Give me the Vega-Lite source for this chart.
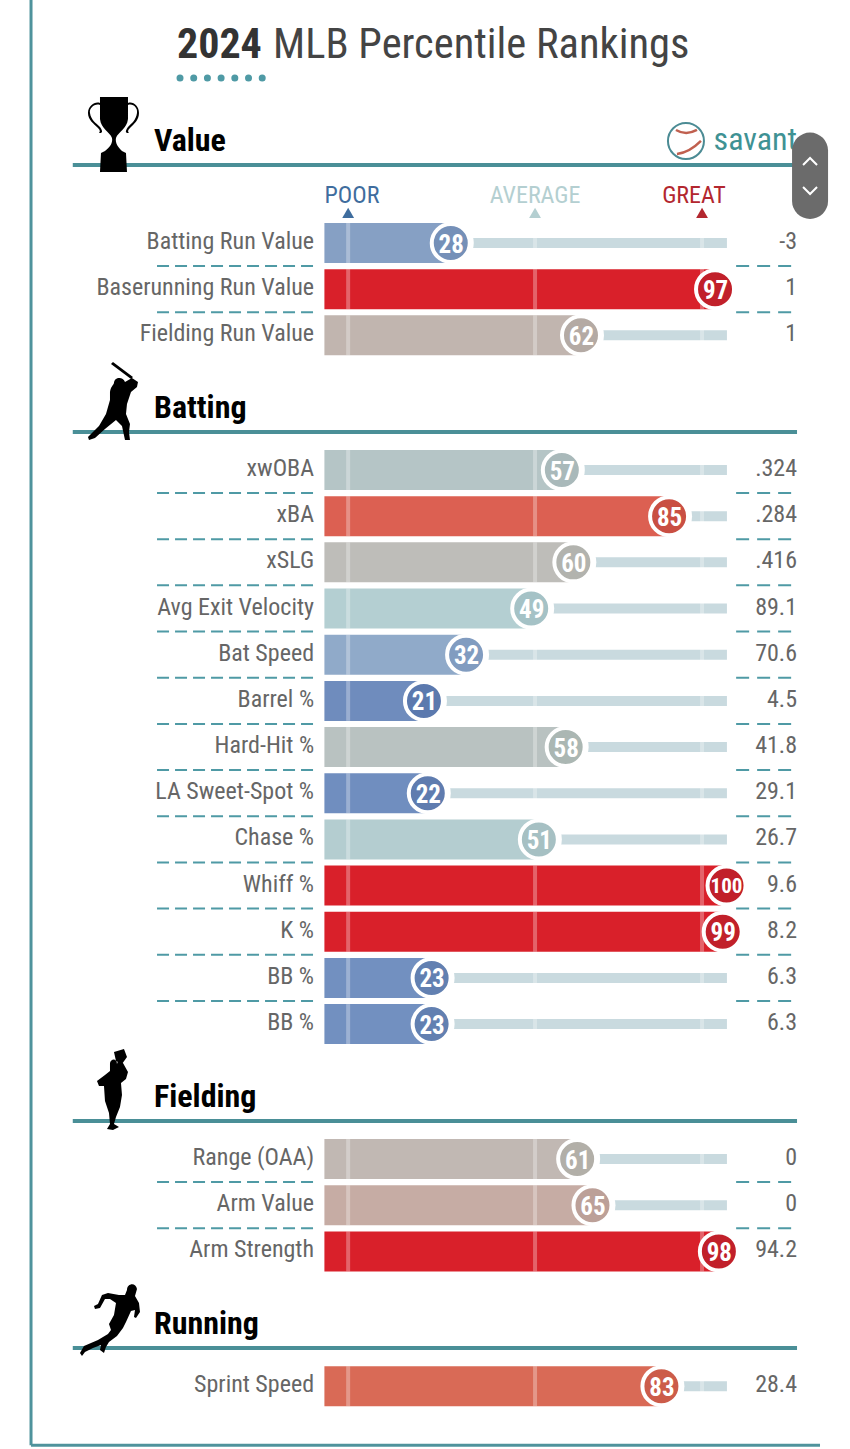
{
"$schema":"https://vega.github.io/schema/vega-lite/v6.json",
"width":850,"height":1449,"padding":0,
"autosize":{"type":"fit","contains":"padding"},
"background":"white",
"config":{"axis":{"disable":true},"view":{"stroke":null},"font":"Roboto Condensed"},
"datasets":{
"metrics":[
{"row":0,"name":"Batting Run Value","pct":28,"value":"-3","section":"Value","divider":true},
{"row":1,"name":"Baserunning Run Value","pct":97,"value":"1","section":"Value","divider":true},
{"row":2,"name":"Fielding Run Value","pct":62,"value":"1","section":"Value","divider":false},
{"row":4.917,"name":"xwOBA","pct":57,"value":".324","section":"Batting","divider":true},
{"row":5.917,"name":"xBA","pct":85,"value":".284","section":"Batting","divider":true},
{"row":6.917,"name":"xSLG","pct":60,"value":".416","section":"Batting","divider":true},
{"row":7.917,"name":"Avg Exit Velocity","pct":49,"value":"89.1","section":"Batting","divider":true},
{"row":8.917,"name":"Bat Speed","pct":32,"value":"70.6","section":"Batting","divider":true},
{"row":9.917,"name":"Barrel %","pct":21,"value":"4.5","section":"Batting","divider":true},
{"row":10.917,"name":"Hard-Hit %","pct":58,"value":"41.8","section":"Batting","divider":true},
{"row":11.917,"name":"LA Sweet-Spot %","pct":22,"value":"29.1","section":"Batting","divider":true},
{"row":12.917,"name":"Chase %","pct":51,"value":"26.7","section":"Batting","divider":true},
{"row":13.917,"name":"Whiff %","pct":100,"value":"9.6","section":"Batting","divider":true},
{"row":14.917,"name":"K %","pct":99,"value":"8.2","section":"Batting","divider":true},
{"row":15.917,"name":"BB %","pct":23,"value":"6.3","section":"Batting","divider":true},
{"row":16.917,"name":"BB %","pct":23,"value":"6.3","section":"Batting","divider":false},
{"row":19.84,"name":"Range (OAA)","pct":61,"value":"0","section":"Fielding","divider":true},
{"row":20.84,"name":"Arm Value","pct":65,"value":"0","section":"Fielding","divider":true},
{"row":21.84,"name":"Arm Strength","pct":98,"value":"94.2","section":"Fielding","divider":false},
{"row":24.76,"name":"Sprint Speed","pct":83,"value":"28.4","section":"Running","divider":false}
],
"sections":[
{"row":-1.689,"section":"Value"},
{"row":4.094,"section":"Batting"},
{"row":19.017,"section":"Fielding"},
{"row":23.933,"section":"Running"}
],
"scaleLabels":[
{"label":"POOR","textAt":2.6,"markAt":1.6},
{"label":"AVERAGE","textAt":50.4,"markAt":50.4},
{"label":"GREAT","textAt":91.9,"markAt":94}
]
},
"data":{"name":"metrics"},
"layer":[
{"data":{"values":[{"f":1}]},"mark":{"type":"rule","stroke":"#4f939c","strokeWidth":3,"clip":true},
 "encoding":{"x":{"datum":-81.2,"type":"quantitative","scale":{"domain":[-89.3,132.63],"nice":false,"zero":false}},
 "y":{"datum":-5.263,"type":"quantitative","scale":{"domain":[-5.263,26.12],"reverse":true,"nice":false,"zero":false}},
 "y2":{"datum":26.04}}},
{"data":{"values":[{"f":1}]},"mark":{"type":"rule","stroke":"#4f939c","strokeWidth":3},
 "encoding":{"x":{"datum":-81.2,"type":"quantitative"},"x2":{"datum":124.8},"y":{"datum":26.04,"type":"quantitative"}}},
{"data":{"values":[{"label":"2024"}]},"mark":{"type":"text","align":"left","baseline":"alphabetic","fontSize":42,"fontWeight":"bold","color":"#333333"},
 "encoding":{"x":{"datum":-43.1,"type":"quantitative"},"y":{"datum":-4.007,"type":"quantitative"},"text":{"field":"label","type":"nominal"}}},
{"data":{"values":[{"label":"MLB Percentile Rankings"}]},"mark":{"type":"text","align":"left","baseline":"alphabetic","fontSize":42.5,"color":"#444444"},
 "encoding":{"x":{"datum":-18,"type":"quantitative"},"y":{"datum":-4.007,"type":"quantitative"},"text":{"field":"label","type":"nominal"}}},
{"data":{"values":[{"f":1}]},"mark":{"type":"rule","stroke":"#4f9aa5","strokeWidth":7,"strokeCap":"round","strokeDash":[0,13.7]},
 "encoding":{"x":{"datum":-42.3,"type":"quantitative"},"x2":{"datum":-20.4},"y":{"datum":-3.574,"type":"quantitative"}}},
{"data":{"name":"sections"},"mark":{"type":"rule","stroke":"#4a8f97","strokeWidth":4},
 "encoding":{"x":{"datum":-70.3,"type":"quantitative"},"x2":{"datum":118.8},"y":{"field":"row","type":"quantitative"}}},
{"data":{"name":"sections"},"mark":{"type":"text","align":"left","baseline":"alphabetic","fontSize":32,"fontWeight":"bold","color":"#000000","yOffset":-14},
 "encoding":{"x":{"datum":-49.1,"type":"quantitative"},"y":{"field":"row","type":"quantitative"},"text":{"field":"section","type":"nominal"}}},
{"data":{"name":"sections"},"transform":[{"filter":"datum.section==='Value'"}],
 "mark":{"type":"point","filled":true,"size":4,"fill":"#000000","opacity":1,"shape":"M-13,-68 L15,-68 L15,-46 C14,-36 5,-33 3,-27 C2,-22 5,-18 9,-14 L13,-12 L14,7 L-13,7 L-12,-12 L-8,-14 C-3,-18 0,-22 -1,-27 C-3,-33 -12,-36 -13,-46 Z M-13,-60 C-18,-62 -24,-57 -23,-52 C-22,-45 -17,-42 -13,-38 C-11,-35 -10,-33 -12,-32 L-14,-32 C-12,-34 -14,-36 -15,-37 C-19,-41 -25,-45 -25,-52 C-25,-59 -18,-64 -13,-62 Z M15,-60 C20,-62 25,-57 24,-52 C23,-45 19,-42 15,-38 C13,-35 12,-33 14,-32 L16,-32 C14,-34 16,-36 17,-37 C21,-41 26,-45 26,-52 C26,-59 20,-64 15,-62 Z"},
 "encoding":{"x":{"datum":-59.8,"type":"quantitative"},"y":{"field":"row","type":"quantitative"}}},
{"data":{"name":"sections"},"transform":[{"filter":"datum.section==='Batting'"}],
 "mark":{"type":"point","filled":true,"size":4,"fill":"#000000","opacity":1,"shape":"M-2,-68 L0,-70 L20,-55 L18,-53 Z M1,-49 C1,-55 10,-56 12,-50 L19,-54 L25,-50 L24,-45 L18,-40 L14,-28 L13,-18 L17,-8 L16,0 L17,8 L12,8 L9,-6 L3,-12 L-8,-3 L-18,6 L-24,8 L-25,5 L-14,-6 L-7,-18 L-3,-32 L-3,-40 C-2,-46 0,-46 1,-49 Z"},
 "encoding":{"x":{"datum":-59.8,"type":"quantitative"},"y":{"field":"row","type":"quantitative"}}},
{"data":{"name":"sections"},"transform":[{"filter":"datum.section==='Fielding'"}],
 "mark":{"type":"point","filled":true,"size":4,"fill":"#000000","opacity":1,"shape":"M1,-69 L11,-72 L14,-64 L9,-57 L3,-60 Z M-3,-58 C-2,-63 4,-63 4,-57 L5,-60 L10,-58 L15,-49 L13,-42 L8,-38 L9,-26 L7,-14 L3,-4 L1,3 L6,6 L0,9 L-6,8 L-3,3 L-4,-8 L-8,-20 L-9,-35 L-14,-35 L-16,-40 L-8,-46 L-3,-50 Z"},
 "encoding":{"x":{"datum":-59.8,"type":"quantitative"},"y":{"field":"row","type":"quantitative"}}},
{"data":{"name":"sections"},"transform":[{"filter":"datum.section==='Running'"}],
 "mark":{"type":"point","filled":true,"size":4,"fill":"#000000","opacity":1,"shape":"M14,-58 C14,-65 23,-66 24,-59 L22,-52 L26,-45 L27,-36 L23,-30 L21,-31 L22,-38 L18,-37 L13,-26 L10,-20 L4,-12 L-4,-6 L-7,-1 L-9,5 L-13,2 L-12,-3 L-20,0 L-28,4 L-31,8 L-33,5 L-29,-2 L-15,-8 L-5,-14 L-2,-18 L-4,-24 L1,-33 L3,-45 L-3,-49 L-8,-49 L-13,-40 L-18,-39 L-19,-42 L-15,-44 L-11,-53 L-5,-55 L6,-53 L12,-53 Z"},
 "encoding":{"x":{"datum":-59.8,"type":"quantitative"},"y":{"field":"row","type":"quantitative"}}},
{"data":{"values":[{"label":"savant"}]},"mark":{"type":"text","align":"left","baseline":"alphabetic","fontSize":32,"color":"#3f9294"},
 "encoding":{"x":{"datum":97,"type":"quantitative"},"y":{"datum":-2.01,"type":"quantitative"},"text":{"field":"label","type":"nominal"}}},
{"data":{"values":[{"f":1}]},"mark":{"type":"point","shape":"circle","size":1296,"filled":false,"stroke":"#4b8b94","strokeWidth":2,"opacity":1},
 "encoding":{"x":{"datum":89.8,"type":"quantitative"},"y":{"datum":-2.21,"type":"quantitative"}}},
{"data":{"values":[{"f":1}]},"mark":{"type":"point","size":4,"filled":false,"stroke":"#c0604f","strokeWidth":2.5,"opacity":1,"shape":"M-10,-11 Q0,-5 11,-11 M-9,13 Q3,12 15,0"},
 "encoding":{"x":{"datum":89.8,"type":"quantitative"},"y":{"datum":-2.21,"type":"quantitative"}}},
{"data":{"name":"scaleLabels"},"mark":{"type":"text","align":"center","baseline":"alphabetic","fontSize":24},
 "encoding":{"x":{"field":"textAt","type":"quantitative"},"y":{"datum":-0.867,"type":"quantitative"},"text":{"field":"label","type":"nominal"},
 "color":{"field":"label","type":"nominal","legend":null,"scale":{"domain":["POOR","AVERAGE","GREAT"],"range":["#3f6d9e","#b4cfd1","#b3272f"]}}}},
{"data":{"name":"scaleLabels"},"mark":{"type":"point","shape":"triangle-up","filled":true,"size":140,"opacity":1},
 "encoding":{"x":{"field":"markAt","type":"quantitative"},"y":{"datum":-0.65,"type":"quantitative"},
 "color":{"field":"label","type":"nominal","legend":null}}},
{"mark":{"type":"rule","strokeWidth":10,"stroke":"#c9dadf"},
 "encoding":{"x":{"field":"pct","type":"quantitative"},"x2":{"datum":100.5},"y":{"field":"row","type":"quantitative"}}},
{"mark":{"type":"point","shape":"circle","filled":true,"fill":"white","size":2116,"opacity":1,"xOffset":1.5},
 "encoding":{"x":{"field":"pct","type":"quantitative"},"y":{"field":"row","type":"quantitative"}}},
{"mark":{"type":"rule","strokeWidth":40},
 "encoding":{"x":{"field":"pct","type":"quantitative"},"x2":{"datum":-4.6},"y":{"field":"row","type":"quantitative"},
 "stroke":{"field":"pct","type":"quantitative","legend":null,"scale":{"domain":[21,23,28,32,49,51,57,58,60,61,62,65,83,85,97,100],"range":["#6f8cbd","#7290c0","#86a0c4","#90aac9","#b4cfd2","#b4cdd0","#b5c5c6","#b9c2c1","#bebdb9","#c1b8b3","#c1b5af","#c6aca4","#d96a56","#dc6052","#d9202a","#d9202a"]}}}},
{"mark":{"type":"tick","orient":"vertical","size":40,"thickness":4,"color":"white","opacity":0.3},
 "encoding":{"x":{"datum":1.6,"type":"quantitative"},"y":{"field":"row","type":"quantitative"}}},
{"mark":{"type":"tick","orient":"vertical","size":40,"thickness":4,"color":"white","opacity":0.3},
 "encoding":{"x":{"datum":50.4,"type":"quantitative"},"y":{"field":"row","type":"quantitative"}}},
{"mark":{"type":"tick","orient":"vertical","size":40,"thickness":4,"color":"white","opacity":0.3},
 "encoding":{"x":{"datum":94,"type":"quantitative"},"y":{"field":"row","type":"quantitative"}}},
{"mark":{"type":"point","shape":"circle","filled":true,"size":1444,"stroke":"white","strokeWidth":4,"opacity":1,"xOffset":1.5},
 "encoding":{"x":{"field":"pct","type":"quantitative"},"y":{"field":"row","type":"quantitative"},
 "fill":{"field":"pct","type":"quantitative","legend":null,"scale":{"domain":[21,28,32,49,57,60,62,65,83,85,97,100],"range":["#5b79ae","#7590b8","#819cc0","#a5c2c6","#a9b9ba","#b2b3ae","#b4aaa4","#bca098","#cc5c4a","#c94f43","#c1202a","#c1202a"]}}}},
{"transform":[{"filter":"datum.pct<100"}],"mark":{"type":"text","color":"white","fontWeight":"bold","fontSize":25,"xOffset":2,"yOffset":1.5},
 "encoding":{"x":{"field":"pct","type":"quantitative"},"y":{"field":"row","type":"quantitative"},"text":{"field":"pct","type":"quantitative"}}},
{"transform":[{"filter":"datum.pct==100"}],"mark":{"type":"text","color":"white","fontWeight":"bold","fontSize":21,"xOffset":1.5,"yOffset":1},
 "encoding":{"x":{"field":"pct","type":"quantitative"},"y":{"field":"row","type":"quantitative"},"text":{"field":"pct","type":"quantitative"}}},
{"mark":{"type":"text","align":"right","fontSize":24,"color":"#666666","yOffset":-1},
 "encoding":{"x":{"datum":-7.3,"type":"quantitative"},"y":{"field":"row","type":"quantitative"},"text":{"field":"name","type":"nominal"}}},
{"mark":{"type":"text","align":"right","fontSize":24,"color":"#666666","yOffset":-1},
 "encoding":{"x":{"datum":118.8,"type":"quantitative"},"y":{"field":"row","type":"quantitative"},"text":{"field":"value","type":"nominal"}}},
{"transform":[{"filter":"datum.divider"}],"mark":{"type":"rule","stroke":"#4f9aa5","strokeWidth":2,"strokeDash":[12,6],"yOffset":23},
 "encoding":{"x":{"datum":-48.3,"type":"quantitative"},"x2":{"datum":-7.3},"y":{"field":"row","type":"quantitative"}}},
{"transform":[{"filter":"datum.divider"}],"mark":{"type":"rule","stroke":"#4f9aa5","strokeWidth":2,"strokeDash":[13,8],"yOffset":23},
 "encoding":{"x":{"datum":102.9,"type":"quantitative"},"x2":{"datum":118.8},"y":{"field":"row","type":"quantitative"}}},
{"data":{"values":[{"f":1}]},"mark":{"type":"rule","stroke":"#6b6b6b","strokeWidth":36,"strokeCap":"round"},
 "encoding":{"x":{"datum":122.2,"type":"quantitative"},"y":{"datum":-2.003,"type":"quantitative"},"y2":{"datum":-0.91}}},
{"data":{"values":[{"f":1}]},"mark":{"type":"point","size":4,"filled":false,"stroke":"white","strokeWidth":2,"opacity":1,"shape":"M-7,3 L0,-4 L7,3"},
 "encoding":{"x":{"datum":122.2,"type":"quantitative"},"y":{"datum":-1.754,"type":"quantitative"}}},
{"data":{"values":[{"f":1}]},"mark":{"type":"point","size":4,"filled":false,"stroke":"white","strokeWidth":2,"opacity":1,"shape":"M-7,-3 L0,4 L7,-3"},
 "encoding":{"x":{"datum":122.2,"type":"quantitative"},"y":{"datum":-1.148,"type":"quantitative"}}}
]
}
